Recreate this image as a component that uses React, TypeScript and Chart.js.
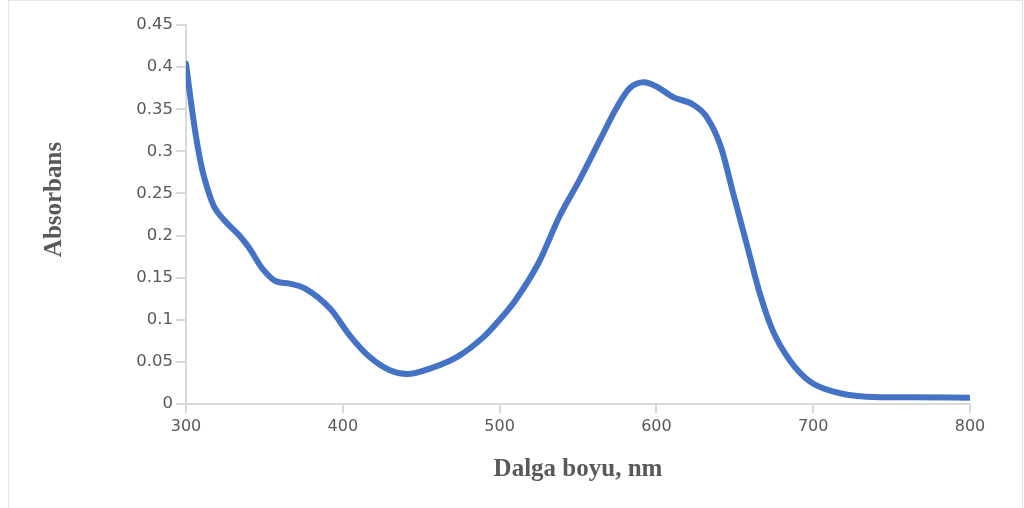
import React, { useEffect, useRef } from "react";
import { Chart, registerables } from "chart.js";

Chart.register(...registerables);

const wavelengths = [
  300, 303, 306, 310, 314, 318, 325, 334, 340, 349, 357, 366, 376, 392,
  405, 417, 430, 441, 456, 473, 490, 500, 510, 525, 538, 551, 564, 575,
  583, 592, 600, 611, 623, 632, 641, 649, 658, 666, 674, 685, 698, 713, 734,
  760, 800,
];
const absorbance = [
  0.404, 0.361, 0.322, 0.281, 0.254, 0.234, 0.217, 0.2, 0.186, 0.16, 0.146,
  0.143, 0.137, 0.113, 0.08, 0.056, 0.04, 0.0355, 0.0424, 0.056, 0.08,
  0.1, 0.123, 0.168, 0.222, 0.266, 0.3135, 0.353, 0.375, 0.382, 0.377,
  0.364, 0.356, 0.341, 0.306, 0.25, 0.187, 0.131, 0.088, 0.052, 0.0265, 0.0146,
  0.0087, 0.008, 0.0075,
];
const xTitle = "Dalga boyu, nm";
const yTitle = "Absorbans";

export default function App() {
  const ref = useRef<HTMLCanvasElement | null>(null);

  useEffect(() => {
    if (!ref.current) return;
    const axisGray = "#d9d9d9";
    const textGray = "#595959";
    const titleFont = "bold 25px 'Liberation Serif'";
    const yTitlePlugin = {
      id: "yTitlePlugin",
      afterDraw(chart: any) {
        const { ctx, chartArea } = chart;
        ctx.save();
        ctx.font = titleFont;
        ctx.fillStyle = textGray;
        ctx.textAlign = "center";
        ctx.textBaseline = "middle";
        ctx.translate(55, (chartArea.top + chartArea.bottom) / 2 - 15);
        ctx.rotate(-Math.PI / 2);
        ctx.fillText(yTitle, 0, 0);
        ctx.restore();
      },
    };
    const chart = new Chart(ref.current, {
      type: "line",
      data: {
        datasets: [
          {
            data: wavelengths.map((w, i) => ({ x: w, y: absorbance[i] })),
            borderColor: "#4472C4",
            backgroundColor: "#4472C4",
            borderWidth: 6,
            pointRadius: 0,
            cubicInterpolationMode: "monotone",
            borderCapStyle: "round",
            borderJoinStyle: "round",
            fill: false,
          },
        ],
      },
      plugins: [yTitlePlugin],
      options: {
        animation: false,
        responsive: false,
        maintainAspectRatio: false,
        layout: { padding: { left: 40, right: 54, top: 25, bottom: 23 } },
        plugins: { legend: { display: false }, tooltip: { enabled: false } },
        scales: {
          x: {
            type: "linear",
            min: 300,
            max: 800,
            ticks: {
              stepSize: 100,
              color: textGray,
              padding: 4,
              maxRotation: 0,
              font: { family: "DejaVu Sans", size: 16 },
            },
            grid: {
              display: true,
              drawOnChartArea: false,
              drawTicks: true,
              tickLength: 9,
              color: axisGray,
              lineWidth: 2,
            },
            border: { display: true, color: axisGray, width: 2 },
            title: {
              display: true,
              text: xTitle,
              color: textGray,
              padding: 0,
              font: { family: "Liberation Serif", size: 25, weight: "bold" },
            },
            afterFit: (s: any) => {
              s.height = 81;
            },
          },
          y: {
            min: 0,
            max: 0.45,
            ticks: {
              stepSize: 0.05,
              color: textGray,
              padding: 3,
              font: { family: "DejaVu Sans", size: 16.5 },
              callback: (v: any) => String(Number(Number(v).toFixed(2))),
            },
            grid: {
              display: true,
              drawOnChartArea: false,
              drawTicks: true,
              tickLength: 10,
              color: axisGray,
              lineWidth: 2,
            },
            border: { display: true, color: axisGray, width: 2 },
            title: { display: false },
            afterFit: (s: any) => {
              s.width = 146;
            },
          },
        },
      },
    });
    return () => chart.destroy();
  }, []);

  return (
    <div style={{ position: "absolute", left: 0, top: 0, width: 1024, height: 508, overflow: "hidden", background: "#fff" }}>
      <div
        style={{
          position: "absolute",
          left: 8,
          top: 0,
          width: 1013,
          height: 530,
          border: "1px solid #e6e6e6",
        }}
      />
      <canvas ref={ref} width={1024} height={508} style={{ position: "absolute", left: 0, top: 0, width: 1024, height: 508 }} />
    </div>
  );
}
